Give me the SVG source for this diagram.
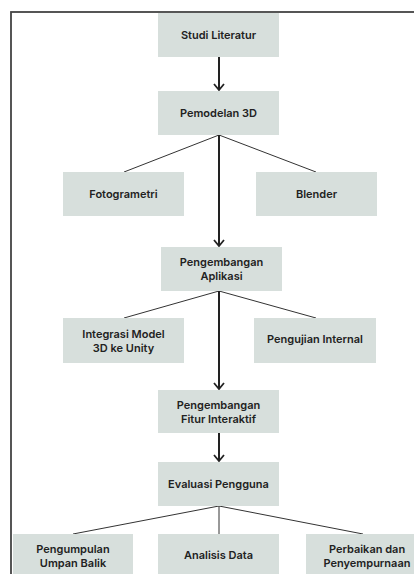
<svg xmlns="http://www.w3.org/2000/svg" width="414" height="574" viewBox="0 0 414 574">
<defs>
<marker id="chev" viewBox="0 0 8 12" refX="7" refY="6" markerWidth="8" markerHeight="12" markerUnits="userSpaceOnUse" orient="auto">
<path d="M1,1 L7,6 L1,11" fill="none" stroke="#222" stroke-width="1.8"/>
</marker>
</defs>
<style>
.box{fill:#d7dfdc}
.t{font-family:Inter,"Liberation Sans",sans-serif;font-size:11px;font-weight:600;fill:#222;text-anchor:middle}
.thick{stroke:#222;stroke-width:2;fill:none}
.thin{stroke:#333;stroke-width:1;fill:none}
</style>
<rect x="0" y="0" width="414" height="574" fill="#fff"/>
<rect x="11" y="12" width="420" height="580" fill="none" stroke="#444" stroke-width="1.8"/>
<g id="connectors">
<line class="thick" x1="219" y1="57" x2="219" y2="90" marker-end="url(#chev)"/>
<line class="thin" x1="219" y1="135" x2="124" y2="172"/>
<line class="thin" x1="219" y1="135" x2="316" y2="172"/>
<line class="thick" x1="219" y1="135" x2="219" y2="246" marker-end="url(#chev)"/>
<line class="thin" x1="219" y1="291" x2="124" y2="318"/>
<line class="thin" x1="219" y1="291" x2="316" y2="318"/>
<line class="thick" x1="219" y1="291" x2="219" y2="389" marker-end="url(#chev)"/>
<line class="thick" x1="219" y1="433" x2="219" y2="461" marker-end="url(#chev)"/>
<line class="thin" x1="219" y1="506" x2="73" y2="534"/>
<line class="thin" x1="219" y1="506" x2="219" y2="534"/>
<line class="thin" x1="219" y1="506" x2="363" y2="534"/>
</g>
<g id="studi-literatur"><rect class="box" x="158" y="13" width="121" height="44"/><text class="t" x="218.5" y="39">Studi Literatur</text></g>
<g id="pemodelan-3d"><rect class="box" x="158" y="91" width="121" height="44"/><text class="t" x="218.5" y="117">Pemodelan 3D</text></g>
<g id="fotogrametri"><rect class="box" x="63" y="172" width="121" height="44"/><text class="t" x="123.5" y="198">Fotogrametri</text></g>
<g id="blender"><rect class="box" x="256" y="172" width="121" height="44"/><text class="t" x="316.5" y="198">Blender</text></g>
<g id="pengembangan-aplikasi"><rect class="box" x="161" y="247" width="121" height="44"/><text class="t" x="221.5" y="266">Pengembangan</text><text class="t" x="221.5" y="280">Aplikasi</text></g>
<g id="integrasi"><rect class="box" x="63" y="318" width="121" height="45"/><text class="t" x="123.5" y="338">Integrasi Model</text><text class="t" x="123.5" y="352">3D ke Unity</text></g>
<g id="pengujian-internal"><rect class="box" x="254" y="318" width="122" height="45"/><text class="t" x="315" y="343">Pengujian Internal</text></g>
<g id="pengembangan-fitur"><rect class="box" x="158" y="390" width="121" height="43"/><text class="t" x="218.5" y="409">Pengembangan</text><text class="t" x="218.5" y="423">Fitur Interaktif</text></g>
<g id="evaluasi-pengguna"><rect class="box" x="158" y="462" width="121" height="44"/><text class="t" x="218.5" y="488">Evaluasi Pengguna</text></g>
<g id="pengumpulan"><rect class="box" x="13" y="534" width="120" height="45"/><text class="t" x="73" y="553">Pengumpulan</text><text class="t" x="73" y="567">Umpan Balik</text></g>
<g id="analisis-data"><rect class="box" x="158" y="534" width="121" height="45"/><text class="t" x="218.5" y="559">Analisis Data</text></g>
<g id="perbaikan"><rect class="box" x="306" y="534" width="122" height="45"/><text class="t" x="367" y="553">Perbaikan dan</text><text class="t" x="367" y="567">Penyempurnaan</text></g>
</svg>
